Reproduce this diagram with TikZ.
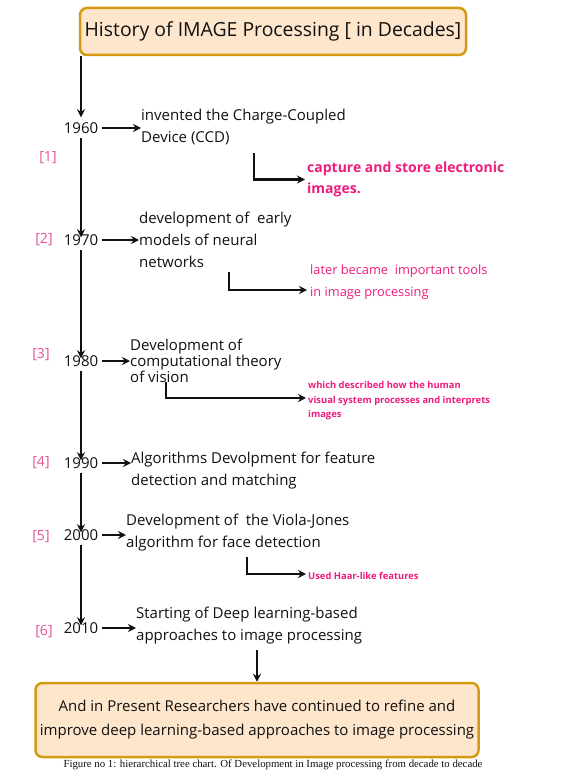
\documentclass[tikz,border=0pt]{standalone}
\usepackage{fontspec}
\setmainfont{Open Sans}
\newfontfamily\capfont{Liberation Serif}
\usetikzlibrary{arrows.meta,positioning}
\definecolor{ink}{HTML}{111111}
\definecolor{frame}{HTML}{D49A12}
\definecolor{paper}{HTML}{FDE6CC}
\definecolor{hot}{HTML}{EE1C7E}
\definecolor{refpink}{HTML}{E8509A}
\tikzset{
  >={Stealth[length=8pt,width=8pt]},
  every node/.style={text=ink,inner sep=0pt},
  headbox/.style={draw=frame,line width=2.5pt,rounded corners=7pt,fill=paper,align=center},
  year/.style={font=\fontsize{15}{18}\selectfont,inner sep=4pt},
  desc/.style={font=\fontsize{15}{22}\selectfont,align=left,anchor=west},
  note/.style={font=\fontsize{12.8}{22}\selectfont,text=hot,align=left,anchor=west},
  tinynote/.style={font=\fontsize{9.4}{14.5}\selectfont\bfseries,text=hot,align=left,anchor=west},
  refno/.style={font=\fontsize{14}{16}\selectfont,text=refpink},
  spine/.style={->,line width=2.8pt,draw=ink,shorten >=1pt},
  arrow/.style={->,line width=2.1pt,draw=ink},
}

\begin{document}
\begin{tikzpicture}[x=1pt,y=-1pt]
\useasboundingbox[fill=white] (0,0) rectangle (562,778);

\node[headbox,minimum width=386pt,minimum height=47pt,font=\fontsize{19.4}{22}\selectfont] (title) at (273,31.5)
{History of IMAGE Processing [ in Decades]};

% decades along the spine
\node[year] (y1960) at (81,128) {1960};
\node[year] (y1970) at (81,240) {1970};
\node[year] (y1980) at (81,361) {1980};
\node[year] (y1990) at (81,463) {1990};
\node[year] (y2000) at (81,535) {2000};
\node[year] (y2010) at (81,628) {2010};

\node[refno] (r1) at (48,158) {[1]};
\node[refno] (r2) at (44,240) {[2]};
\node[refno] (r3) at (41,355) {[3]};
\node[refno] (r4) at (41,463) {[4]};
\node[refno] (r5) at (41,537) {[5]};
\node[refno] (r6) at (44,632) {[6]};

\draw[spine] (title.south -| y1960) -- (y1960.north);
\draw[spine] (y1960.south) -- ([yshift=-8pt]y1970.north);
\draw[spine] (y1970.south) -- ([yshift=-8pt]y1980.north);
\draw[spine] (y1980.south) -- ([yshift=-8pt]y1990.north);
\draw[spine] (y1990.south) -- ([yshift=-8pt]y2000.north);
\draw[spine] (y2000.south) -- ([yshift=-8pt]y2010.north);

% what happened in each decade
\node[desc] (d1960) at (141,127) {invented the Charge-Coupled\\Device (CCD)};
\node[desc] (d1970) at (139,240) {development of \ early\\models of neural\\networks};
\node[desc,font=\fontsize{15}{13.5}\selectfont] (d1980) at (130,361) {Development of\\computational theory\\of vision};
\node[desc] (d1990) at (131,471) {Algorithms Devolpment for feature\\detection and matching};
\node[desc] (d2000) at (126,533) {Development of \ the Viola-Jones\\algorithm for face detection};
\node[desc] (d2010) at (136,626) {Starting of Deep learning-based\\approaches to image processing};

\foreach \y in {1960,1970,1980,1990,2000,2010}
  \draw[arrow] (y\y.east) -- (y\y.east -| d\y.west);

% side notes
\node[note,font=\fontsize{14}{21}\selectfont\bfseries] (n1960) at (307,179.5) {capture and store electronic\\images.};
\node[note] (n1970) at (310,282) {later became \ important tools\\in image processing};
\node[tinynote] (n1980) at (308,401) {which described how the human\\visual system processes and interprets\\images};
\node[tinynote] (n2000) at (308,576) {Used Haar-like features};

\coordinate (e1960) at (254,153);
\coordinate (e1970) at (229,272);
\coordinate (e1980) at (166,382);
\coordinate (e2000) at (247,557);

\draw[arrow] (e1960) |- ([xshift=-2pt]n1960.west);
\draw[arrow] (e1970) |- ([xshift=-3pt,yshift=-8pt]n1970.west);
\draw[arrow] (e1980) |- ([xshift=-2pt,yshift=3pt]n1980.west);
\draw[arrow] (e2000) |- ([xshift=-2pt,yshift=2pt]n2000.west);

% present day
\node[headbox,minimum width=443pt,minimum height=74pt,font=\fontsize{15}{24}\selectfont] (today) at (257,720)
{And in Present Researchers have continued to refine and\\improve deep learning-based approaches to image processing};
\draw[arrow] (today.north |- d2010.south) ++(0,5) -- (today.north);

\node[font=\capfont\fontsize{10.8}{12}\selectfont] (caption) at (273,765)
{Figure no 1: hierarchical tree chart. Of Development in Image processing from decade to decade};

\end{tikzpicture}
\end{document}
